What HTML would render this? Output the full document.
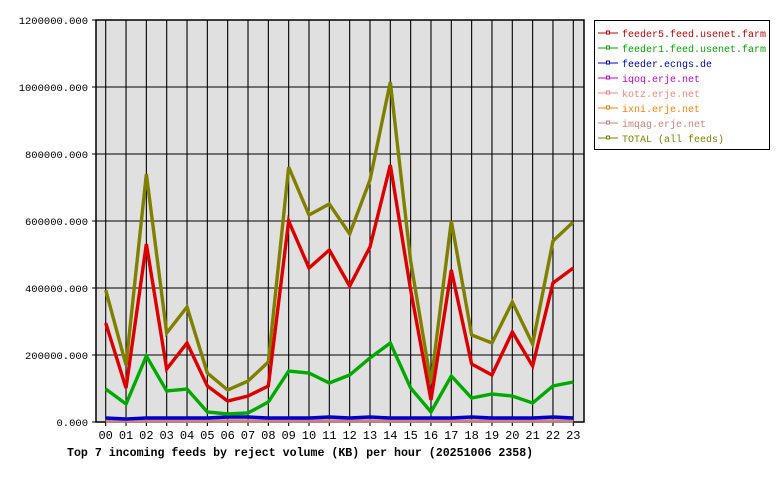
<!DOCTYPE html>
<html><head><meta charset="utf-8"><style>
body{margin:0;background:#fff;}
svg text{font-family:"Liberation Mono","DejaVu Sans Mono",monospace;}
</style></head><body>
<svg width="780" height="480" viewBox="0 0 780 480" xmlns="http://www.w3.org/2000/svg">
<rect x="96" y="20" width="488" height="402" fill="#e0e0e0" stroke="#000" stroke-width="1.5"/>
<g stroke="#000" stroke-width="1.1" id="grid"></g>
<g id="lab" fill="#000"></g>
<g fill="none" stroke-width="3.4" stroke-linejoin="miter">
<polyline id="pk" stroke="#d08080"/>
<polyline id="bl" stroke="#0000cc"/>
<polyline id="gr" stroke="#00aa00"/>
<polyline id="ol" stroke="#808000"/>
<polyline id="rd" stroke="#dd0000"/>
</g>
<text x="67" y="456" font-size="11.6" font-weight="bold" fill="#000">Top 7 incoming feeds by reject volume (KB) per hour (20251006 2358)</text>
<rect x="594.5" y="20.5" width="175" height="129" fill="#fff" stroke="#000" stroke-width="1"/>
<g font-size="10" id="leg"></g>
</svg>
<script>
const X=i=>105.7+20.33*i;
let g='',l='';
for(let i=0;i<24;i++){g+=`<line x1="${X(i)}" y1="20" x2="${X(i)}" y2="426"/>`;l+=`<text x="${X(i)}" y="439" font-size="12" text-anchor="middle">${String(i).padStart(2,'0')}</text>`;}
for(let k=0;k<=6;k++){const y=422-67*k;g+=`<line x1="92" y1="${y}" x2="584" y2="${y}"/>`;l+=`<text x="88" y="${y+4}" font-size="10.5" text-anchor="end">${(k*200000)}.000</text>`;}
document.getElementById('grid').innerHTML=g;document.getElementById('lab').innerHTML=l;
const D={
ol:[290,365,174,333,307,373,390,381,362,167,215,204,234,180,82,261,383,221,335,343,302,344,241,222],
rd:[323,388,244,369,343,386,401,396,386,221,268,250,286,247,165,290,400,270,364,375,332,366,283,268],
gr:[389,404,356,391,389,412,414,413,402,371,373,383,375,358,343,388,412,376,398,394,396,403,386,382],
bl:[418,419,418,418,418,418,417,417,418,418,418,417,418,417,418,418,418,418,417,418,418,418,417,418],
pk:[421,421,421,421,421,421,421,421,421,421,421,421,421,421,421,421,421,421,421,421,421,421,421,421]};
for(const k in D)document.getElementById(k).setAttribute('points',D[k].map((y,i)=>X(i)+','+y).join(' '));
const L=[["feeder5.feed.usenet.farm","#cc0000"],["feeder1.feed.usenet.farm","#00aa00"],["feeder.ecngs.de","#0000cc"],["iqoq.erje.net","#cc00cc"],["kotz.erje.net","#ff8080"],["ixni.erje.net","#ff8000"],["imqag.erje.net","#d08080"],["TOTAL (all feeds)","#808000"]];
let s='';L.forEach((e,i)=>{const y=33+15*i;s+=`<line x1="598" y1="${y}" x2="618" y2="${y}" stroke="${e[1]}" stroke-width="1"/><rect x="606.5" y="${y-2}" width="3" height="3" fill="#fff" stroke="${e[1]}" stroke-width="1"/><text x="622" y="${y+4}" fill="${e[1]}">${e[0]}</text>`;});
document.getElementById('leg').innerHTML=s;
</script>
</body></html>
